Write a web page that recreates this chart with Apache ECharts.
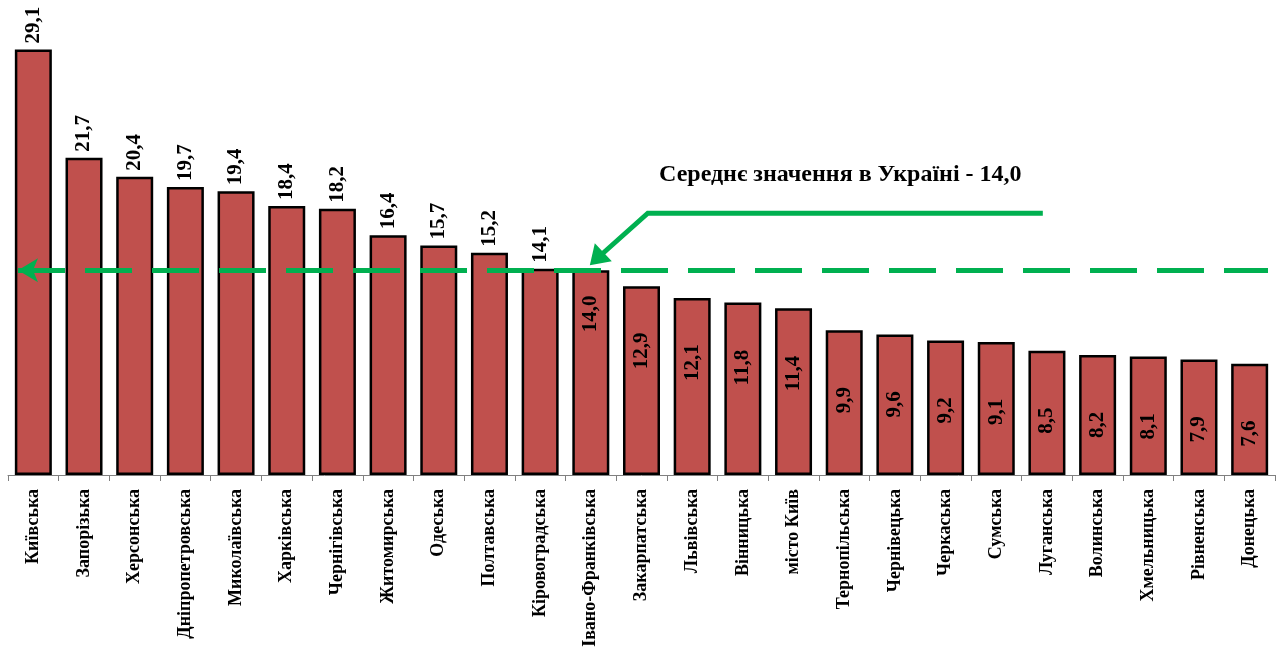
<!DOCTYPE html>
<html>
<head>
<meta charset="utf-8">
<title>Середнє значення в Україні</title>
<script src="https://cdn.jsdelivr.net/npm/echarts@6/dist/echarts.min.js"></script>
<style>
  html, body { margin: 0; padding: 0; background: #fff; }
  #chart { width: 1283px; height: 652px; }
</style>
</head>
<body>
<div id="chart"></div>
<script>
// області
var regions = [
  'Київська', 'Запорізька', 'Херсонська', 'Дніпропетровська', 'Миколаївська',
  'Харківська', 'Чернігівська', 'Житомирська', 'Одеська', 'Полтавська',
  'Кіровоградська', 'Івано-Франківська', 'Закарпатська', 'Львівська', 'Вінницька',
  'місто Київ', 'Тернопільська', 'Чернівецька', 'Черкаська', 'Сумська',
  'Луганська', 'Волинська', 'Хмельницька', 'Рівненська', 'Донецька'
]
var values = [
  29.1, 21.7, 20.4, 19.7, 19.4, 18.4, 18.2, 16.4, 15.7, 15.2,
  14.1, 14.0, 12.9, 12.1, 11.8, 11.4, 9.9, 9.6, 9.2, 9.1,
  8.5, 8.2, 8.1, 7.9, 7.6
]
var avgValue = 14.0
var avgText = 'Середнє значення в Україні - 14,0'

var FONT = '"Liberation Serif", "Times New Roman", serif'

function fmt(v) {
  return v.toFixed(1).replace('.', ',')
}

// підписи: вище середнього - над стовпцем, інші - всередині
var barData = values.map(function(v, i) {
  var item = { value: v }
  if (v > avgValue) {
    item.label = { position: 'top', distance: 6 }
  } else {
    item.label = {
      position: 'insideTop',
      distance: v === avgValue ? 62 : 83
    }
  }
  return item
})

var chart = echarts.init(document.getElementById('chart'))

var option = {
  animation: false,
  grid: { left: 8, right: 8, top: 7, bottom: 177 },
  xAxis: {
    type: 'category',
    data: regions,
    axisLine: { lineStyle: { color: '#808080', width: 1 } },
    axisTick: { show: true, length: 6, lineStyle: { color: '#808080' } },
    axisLabel: {
      rotate: 90,
      interval: 0,
      margin: 14,
      color: '#000',
      fontFamily: FONT,
      fontWeight: 'bold',
      fontSize: 18
    }
  },
  yAxis: {
    type: 'value',
    min: 0,
    max: 32,
    show: false,
    splitLine: { show: false }
  },
  series: [
    {
      type: 'bar',
      data: barData,
      barWidth: 37,
      itemStyle: { color: '#C0504D', borderColor: '#000', borderWidth: 2.5 },
      label: {
        show: true,
        rotate: 90,
        align: 'left',
        verticalAlign: 'middle',
        color: '#000',
        fontFamily: FONT,
        fontWeight: 'bold',
        fontSize: 21,
        formatter: function(p) { return fmt(p.value) }
      }
    }
  ]
}
chart.setOption(option)

// лінія середнього значення (трохи коротша за вісь) і стрілка-виноска
var tip = chart.convertToPixel({ xAxisIndex: 0, yAxisIndex: 0 }, [11, avgValue])
var avgY = tip[1]
var tx = tip[0] - 1
var ty = avgY - 5
chart.setOption({
  series: [
    {
      markLine: {
        silent: true,
        symbol: ['arrow', 'none'],
        symbolSize: [18, 20],
        label: { show: false },
        lineStyle: { color: '#00B050', width: 5, type: [47, 20], opacity: 1 },
        data: [[{ x: 18, y: avgY }, { x: 1268, y: avgY }]]
      }
    }
  ],
  graphic: [
    {
      type: 'polyline',
      shape: { points: [[tx + 453, ty - 52], [tx + 58, ty - 52], [tx + 12, ty - 11]] },
      style: { stroke: '#00B050', lineWidth: 5, fill: null }
    },
    {
      type: 'polygon',
      shape: { points: [[tx, ty], [tx + 5, ty - 22], [tx + 22, ty - 4]] },
      style: { fill: '#00B050' }
    },
    {
      type: 'text',
      left: 659,
      top: 163,
      style: {
        text: avgText,
        fill: '#000',
        font: 'bold 24px ' + FONT
      }
    }
  ]
})
</script>
</body>
</html>
